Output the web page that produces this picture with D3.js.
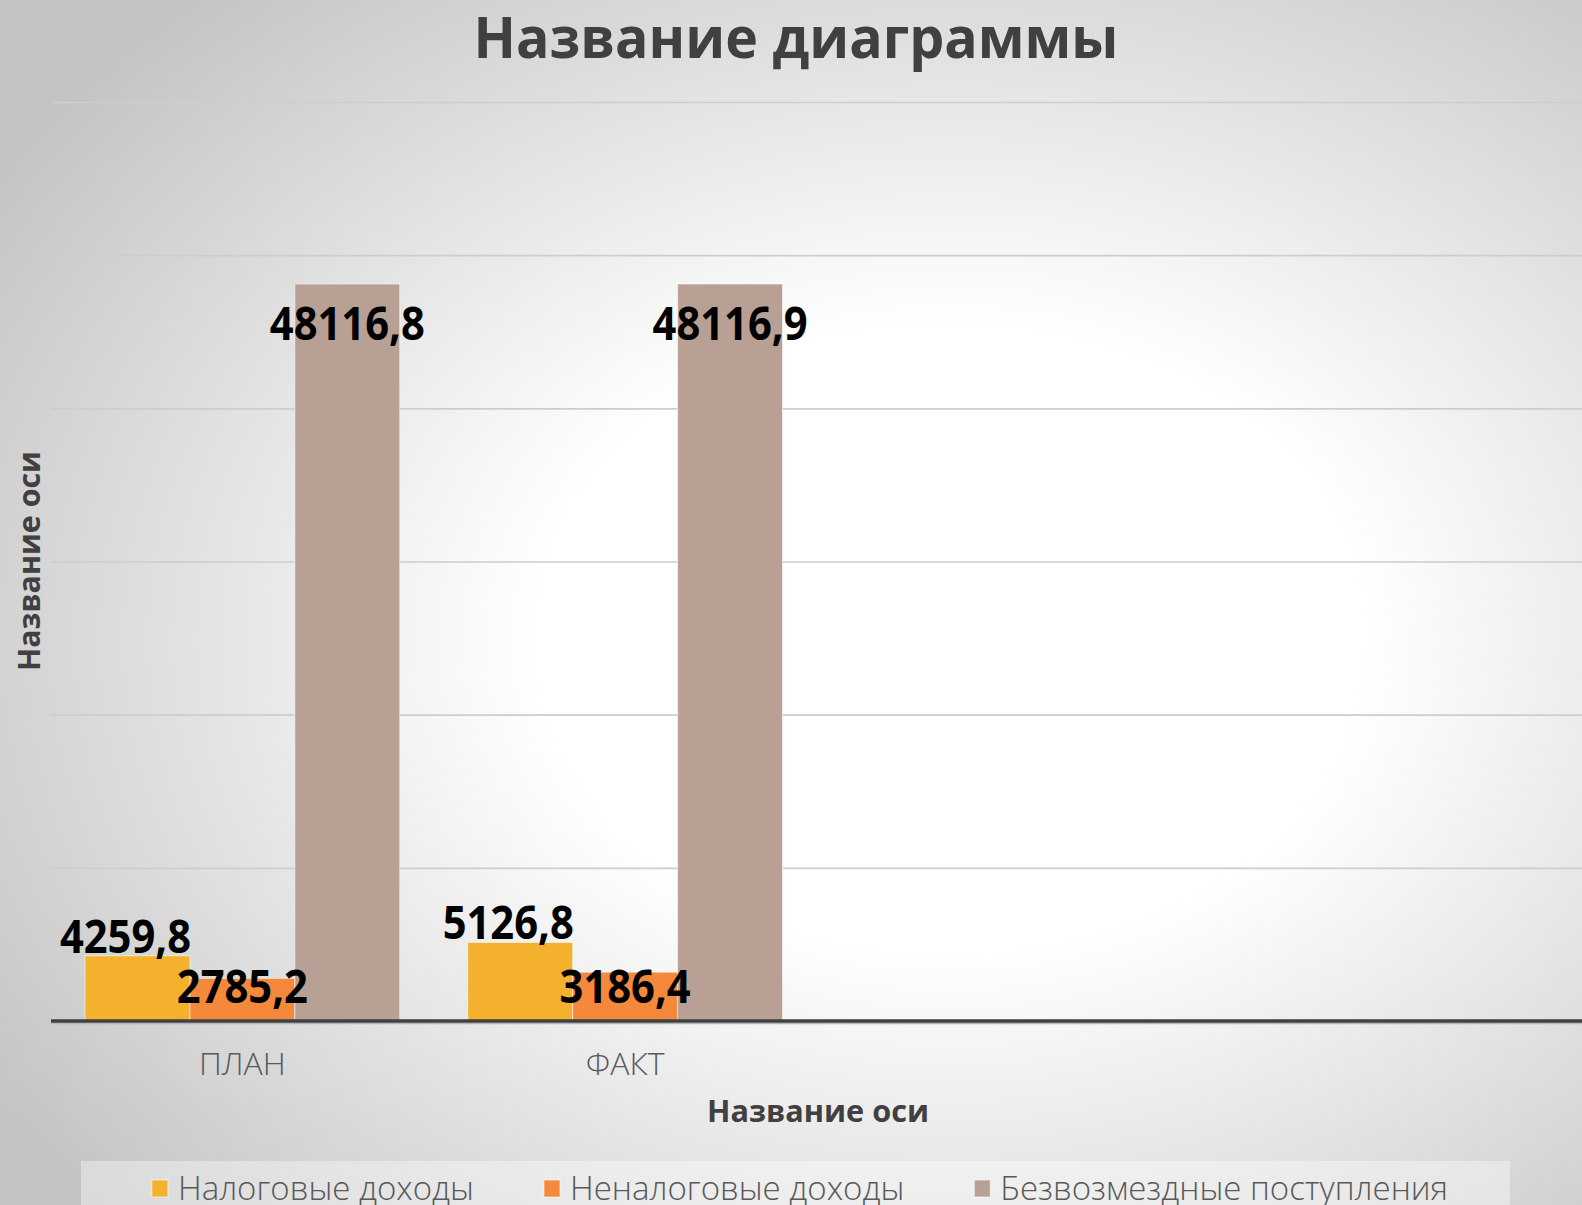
<!DOCTYPE html>
<html>
<head>
<meta charset="utf-8">
<script src="https://cdn.jsdelivr.net/npm/d3@7"></script>
<style>
  body { margin: 0; overflow: hidden; background: #fff; }
  text { font-family: "Open Sans", "DejaVu Sans", sans-serif; }
</style>
</head>
<body>
<div id="chart"></div>
<script>
// chart data
const categories = ["ПЛАН", "ФАКТ", "", ""];
const seriesNames = ["Налоговые доходы", "Неналоговые доходы", "Безвозмездные поступления"];
const taxIncome = [4259.8, 5126.8];
const nonTaxIncome = [2785.2, 3186.4];
const grants = [48116.8, 48116.9];
const yTicks = [0, 10000, 20000, 30000, 40000, 50000, 60000];
const chartTitle = "Название диаграммы";
const xTitle = "Название оси";
const yTitle = "Название оси";

const colors = ["#F4B12E", "#F5893B", "#B8A194"];
const seriesValues = [taxIncome, nonTaxIncome, grants];

const W = 1582, H = 1205;
const margin = { top: 102, right: 0, bottom: 184, left: 51 };

const svg = d3.select("#chart").append("svg")
    .attr("width", W)
    .attr("height", H);

// background: radial grey -> white
const defs = svg.append("defs");
const grad = defs.append("radialGradient")
    .attr("id", "bg")
    .attr("cx", 0.6).attr("cy", 0.53).attr("r", 0.72);
grad.append("stop").attr("offset", 0).attr("stop-color", "#ffffff");
grad.append("stop").attr("offset", 0.36).attr("stop-color", "#ffffff");
grad.append("stop").attr("offset", 1).attr("stop-color", "#c3c3c3");

svg.append("rect")
    .attr("width", W).attr("height", H)
    .attr("fill", "url(#bg)");

const x0 = d3.scaleBand()
    .domain(d3.range(categories.length))
    .range([margin.left, W - margin.right]);

const x1 = d3.scaleBand()
    .domain(d3.range(seriesNames.length))
    .range([34, x0.bandwidth() - 34]);

const y = d3.scaleLinear()
    .domain([0, d3.max(yTicks)])
    .range([H - margin.bottom, margin.top]);

// gridlines
svg.append("g")
    .attr("transform", `translate(${margin.left},0)`)
    .call(d3.axisLeft(y).tickValues(yTicks.slice(1)).tickSize(-(W - margin.left - margin.right)).tickFormat(""))
    .call(g => g.select(".domain").remove())
    .call(g => g.selectAll(".tick line")
        .attr("stroke", "#cdcdcd")
        .attr("stroke-width", 1.6));

// bars
const rows = [];
seriesValues.forEach((vals, s) => {
    vals.forEach((v, c) => rows.push({ s, c, v }));
});

svg.append("g").selectAll("rect")
    .data(rows)
    .join("rect")
    .attr("x", d => x0(d.c) + x1(d.s))
    .attr("y", d => y(d.v))
    .attr("width", x1.bandwidth())
    .attr("height", d => y(0) - y(d.v))
    .attr("fill", d => colors[d.s])
    .attr("stroke", "rgba(255,255,255,0.55)")
    .attr("stroke-width", 1);

// category axis
const xAxis = svg.append("g")
    .attr("transform", `translate(0,${y(0)})`)
    .call(d3.axisBottom(x0).tickSize(0).tickFormat(i => categories[i]));
xAxis.select(".domain").remove();
xAxis.selectAll(".tick text")
    .attr("y", 54)
    .attr("dy", 0)
    .attr("fill", "#595959")
    .style("font-size", "32px")
    .style("font-weight", 300);

svg.append("line")
    .attr("x1", margin.left).attr("x2", W - margin.right)
    .attr("y1", y(0) + 2.5).attr("y2", y(0) + 2.5)
    .attr("stroke", "#b5b5b5").attr("stroke-width", 1.5);
svg.append("line")
    .attr("x1", margin.left).attr("x2", W - margin.right)
    .attr("y1", y(0)).attr("y2", y(0))
    .attr("stroke", "#404040").attr("stroke-width", 3.5);

// data labels
const fmt = v => d3.format(".1f")(v).replace(".", ",");
const labelPos = [
    d => ({ x: x0(d.c) + x1(d.s) + x1.bandwidth() / 2 - 12, y: y(d.v) - 3 }),
    d => ({ x: x0(d.c) + x1(d.s) + x1.bandwidth() / 2, y: y(0) - 18 }),
    d => ({ x: x0(d.c) + x1(d.s) + x1.bandwidth() / 2, y: y(d.v) + 56 })
];
const labels = svg.append("g").selectAll("text")
    .data(rows)
    .join("text")
    .attr("text-anchor", "middle")
    .attr("fill", "#000")
    .style("font-size", "46px")
    .style("font-weight", 700)
    .text(d => fmt(d.v));
const refWidth = labels.filter(d => d.s === 2 && d.c === 0).node().getComputedTextLength();
const squeeze = 155 / refWidth;
labels.attr("transform", d => {
    const p = labelPos[d.s](d);
    return `translate(${p.x},${p.y}) scale(${squeeze},1)`;
});

// titles
svg.append("text")
    .attr("x", 796).attr("y", 58)
    .attr("text-anchor", "middle")
    .attr("fill", "#404040")
    .attr("textLength", 645)
    .attr("lengthAdjust", "spacingAndGlyphs")
    .style("font-size", "57px")
    .style("font-weight", 700)
    .text(chartTitle);

svg.append("text")
    .attr("x", 818).attr("y", 1122)
    .attr("text-anchor", "middle")
    .attr("fill", "#404040")
    .attr("textLength", 222)
    .attr("lengthAdjust", "spacingAndGlyphs")
    .style("font-size", "30px")
    .style("font-weight", 700)
    .text(xTitle);

svg.append("text")
    .attr("transform", `translate(40,561) rotate(-90)`)
    .attr("text-anchor", "middle")
    .attr("fill", "#404040")
    .attr("textLength", 220)
    .attr("lengthAdjust", "spacingAndGlyphs")
    .style("font-size", "30px")
    .style("font-weight", 700)
    .text(yTitle);

// legend
svg.append("rect")
    .attr("x", 81).attr("y", 1161)
    .attr("width", 1429).attr("height", 60)
    .attr("fill", "#ffffff").attr("fill-opacity", 0.38);

const legend = svg.append("g");
const items = legend.selectAll("g")
    .data(seriesNames)
    .join("g");
items.append("rect")
    .attr("width", 16).attr("height", 17)
    .attr("y", 1180)
    .attr("fill", (d, i) => colors[i])
    .attr("stroke", "rgba(255,255,255,0.6)");
items.append("text")
    .attr("y", 1200)
    .attr("x", 26)
    .attr("fill", "#595959")
    .style("font-size", "33px")
    .style("font-weight", 300)
    .text(d => d);

let cursor = 0;
const offsets = [];
items.each(function () {
    const w = 26 + d3.select(this).select("text").node().getComputedTextLength();
    offsets.push(cursor);
    cursor += w + 70;
});
const total = cursor - 70;
const start = 800 - total / 2;
items.attr("transform", (d, i) => `translate(${start + offsets[i]},0)`);
</script>
</body>
</html>
